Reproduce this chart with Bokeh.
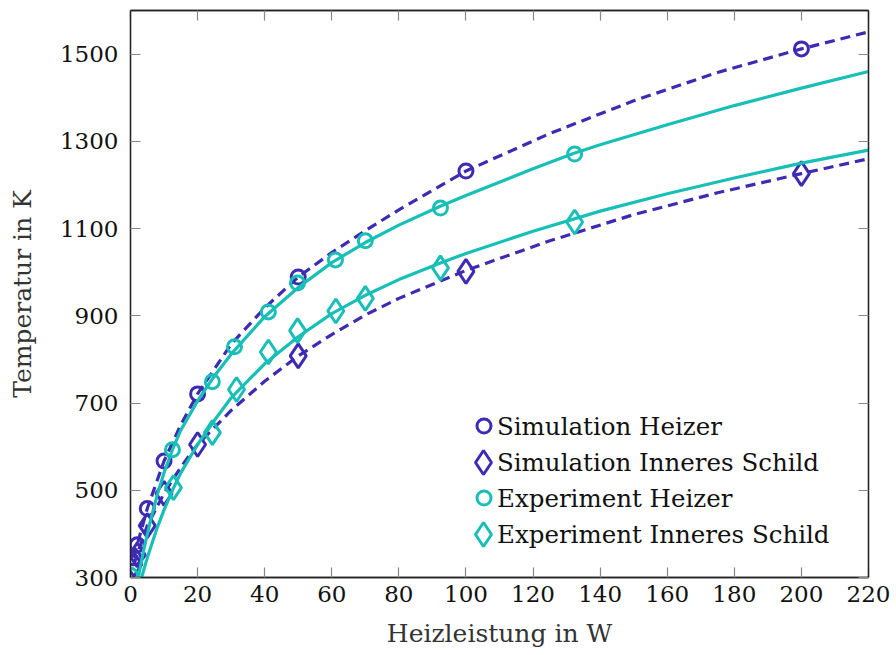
from bokeh.plotting import figure
from bokeh.models import (Range1d, FixedTicker, LinearAxis, Legend, LegendItem,
                          CustomJSTickFormatter)
from bokeh.embed import file_html
from bokeh.resources import INLINE

# ---------------- data ----------------
x_ticks = [0, 20, 40, 60, 80, 100, 120, 140, 160, 180, 200, 220]
y_ticks = [300, 500, 700, 900, 1100, 1300, 1500]

# Simulation markers
sim_heizer_P = [1, 2, 5, 10, 20, 50, 100, 200]
sim_heizer_T = [345, 375, 458, 567, 721, 989, 1232, 1512]
sim_schild_P = [1, 2, 5, 10, 20, 50, 100, 200]
sim_schild_T = [330, 352, 419, 493, 605, 808, 1002, 1226]

# Simulation curves (dashed)
sim_heizer_curve_P = [1, 2, 5, 10, 15, 20, 30, 40, 50, 60, 70, 80, 100, 125, 150, 175, 200, 220]
sim_heizer_curve_T = [345, 375, 458, 567, 650, 721, 835, 918, 989, 1045, 1095, 1143, 1232,
                      1318, 1393, 1458, 1512, 1551]
sim_schild_curve_P = [1, 2, 5, 10, 15, 20, 30, 40, 50, 60, 70, 80, 100, 125, 150, 175, 200, 220]
sim_schild_curve_T = [330, 352, 419, 493, 553, 605, 683, 750, 808, 857, 902, 940, 1004,
                      1072, 1132, 1182, 1226, 1260]

# Experiment markers
exp_heizer_P = [0, 12.5, 24.4, 31.0, 41.1, 49.8, 61.1, 70.0, 92.4, 132.4]
exp_heizer_T = [305, 593, 749, 829, 909, 975, 1028, 1072, 1147, 1271]
exp_schild_P = [12.8, 24.4, 31.6, 41.1, 49.8, 61.2, 70.0, 92.4, 132.4]
exp_schild_T = [506, 632, 731, 817, 866, 911, 940, 1010, 1115]

# Experiment fit curves (solid)
exp_heizer_fit_P = [2.3, 4, 6, 8, 10, 12.5, 15, 20, 25, 30, 40, 50, 60, 70, 80, 92, 100,
                    120, 132, 140, 160, 180, 200, 220]
exp_heizer_fit_T = [300, 365, 432, 490, 540, 593, 638, 705, 762, 812, 898, 965, 1022, 1068,
                    1108, 1150, 1176, 1237, 1272, 1292, 1338, 1382, 1422, 1460]
exp_schild_fit_P = [3.3, 5, 8, 10, 12.5, 15, 20, 25, 30, 40, 50, 60, 70, 80, 92, 100, 120,
                    140, 160, 180, 200, 220]
exp_schild_fit_T = [300, 345, 415, 455, 500, 540, 605, 660, 712, 790, 852, 905, 947, 983,
                    1020, 1043, 1094, 1140, 1180, 1216, 1250, 1280]

labels = ["Simulation Heizer", "Simulation Inneres Schild",
          "Experiment Heizer", "Experiment Inneres Schild"]

# ---------------- style ----------------
PURPLE = "#3d2cb3"
TEAL = "#17bfb7"
FONT = "DejaVu Serif"
TICK_FS = "23px"
LAB_FS = "25px"
LEG_FS = "24.5px"

p = figure(width=896, height=655, output_backend="svg", toolbar_location=None,
           x_range=Range1d(0, 220), y_range=Range1d(300, 1600),
           min_border_left=130, min_border_right=28, min_border_top=10,
           min_border_bottom=78)
p.grid.visible = False
p.outline_line_color = "#222222"
p.outline_line_width = 1.3
p.background_fill_color = "white"
p.border_fill_color = "white"

for ax, ticks in ((p.xaxis[0], x_ticks), (p.yaxis[0], y_ticks)):
    ax.ticker = FixedTicker(ticks=ticks)
    ax.major_tick_in = 10
    ax.major_tick_out = 0
    ax.minor_tick_line_color = None
    ax.major_tick_line_color = "#888888"
    ax.major_tick_line_width = 1.2
    ax.axis_line_color = "#222222"
    ax.axis_line_width = 1.3
    ax.major_label_text_font = FONT
    ax.major_label_text_font_size = TICK_FS
    ax.major_label_text_color = "#111111"
    ax.axis_label_text_font = FONT
    ax.axis_label_text_font_size = LAB_FS
    ax.axis_label_text_font_style = "normal"
    ax.axis_label_text_color = "#333333"

p.xaxis.axis_label = "Heizleistung in W"
p.yaxis.axis_label = "Temperatur in K"
p.xaxis.major_label_standoff = 8
p.xaxis.axis_label_standoff = 14
p.yaxis.major_label_standoff = 12
p.yaxis.axis_label_standoff = 20

empty = CustomJSTickFormatter(code="return ''")
for side, ticks in (("above", x_ticks), ("right", y_ticks)):
    ax = LinearAxis(ticker=FixedTicker(ticks=ticks), formatter=empty,
                    major_tick_in=10, major_tick_out=0,
                    minor_tick_line_color=None,
                    major_tick_line_color="#888888", major_tick_line_width=1.2,
                    axis_line_color="#222222", axis_line_width=1.3,
                    major_label_text_font_size="0px", major_label_standoff=0)
    p.add_layout(ax, side)

# ---------------- curves & markers ----------------
p.line(sim_heizer_curve_P, sim_heizer_curve_T, line_color=PURPLE, line_width=3.2,
       line_dash="10 6")
p.line(sim_schild_curve_P, sim_schild_curve_T, line_color=PURPLE, line_width=3.2,
       line_dash="10 6")
r_sh = p.scatter(sim_heizer_P, sim_heizer_T, marker="circle", size=14,
                 fill_color=None, line_color=PURPLE, line_width=3)
r_ss = p.scatter(sim_schild_P, sim_schild_T, marker="diamond", size=24,
                 fill_color=None, line_color=PURPLE, line_width=3)

p.line(exp_heizer_fit_P, exp_heizer_fit_T, line_color=TEAL, line_width=3.2)
p.line(exp_schild_fit_P, exp_schild_fit_T, line_color=TEAL, line_width=3.2)
r_eh = p.scatter(exp_heizer_P, exp_heizer_T, marker="circle", size=14,
                 fill_color=None, line_color=TEAL, line_width=3)
r_es = p.scatter(exp_schild_P, exp_schild_T, marker="diamond", size=24,
                 fill_color=None, line_color=TEAL, line_width=3)

# ---------------- legend ----------------
# marker-only legends (one per entry so each marker keeps its own size)
glyph_entries = [
    (r_sh, 35, (336, 134)),
    (r_ss, 60, (323, 85)),
    (r_eh, 35, (336, 62)),
    (r_es, 60, (323, 13)),
]
for rend, gsize, loc in glyph_entries:
    lg = Legend(items=[LegendItem(label=" ", renderers=[rend])], location=loc,
                glyph_width=gsize, glyph_height=gsize, label_height=gsize,
                label_standoff=0, padding=0, margin=0, spacing=0,
                border_line_color=None, background_fill_alpha=0,
                label_text_font=FONT, label_text_font_size="1px")
    p.add_layout(lg, "center")

# text-only legend
text_legend = Legend(items=[LegendItem(label=lab, renderers=[]) for lab in labels],
                     location=(367, 25), glyph_width=0, glyph_height=36,
                     label_height=36, label_standoff=0, padding=0, margin=0,
                     spacing=0, border_line_color=None, background_fill_alpha=0,
                     label_text_font=FONT, label_text_font_size=LEG_FS,
                     label_text_color="#111111")
p.add_layout(text_legend, "center")

open("out.html", "w").write(file_html(p, INLINE))
